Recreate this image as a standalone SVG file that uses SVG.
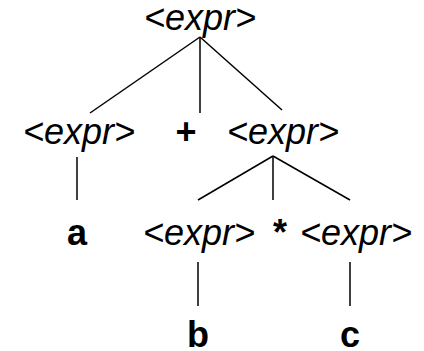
<svg xmlns="http://www.w3.org/2000/svg" width="424" height="351" viewBox="0 0 424 351">
<style>
.nt{font-family:"Liberation Sans",Arial,sans-serif;font-style:italic;font-size:36px;fill:#000;text-anchor:middle}
.t{font-family:"Liberation Sans",Arial,sans-serif;font-weight:bold;font-size:36px;fill:#000;text-anchor:middle}
.e line{stroke:#000;stroke-width:1.5}
</style>
<rect width="424" height="351" fill="#fff"/>
<g class="e" id="edges">
<line x1="200" y1="37" x2="90" y2="113"/>
<line x1="200" y1="37" x2="200" y2="113"/>
<line x1="200" y1="37" x2="282" y2="110"/>
<line x1="77" y1="157" x2="77" y2="200"/>
<line x1="273" y1="156" x2="198" y2="200"/>
<line x1="273" y1="156" x2="273" y2="200"/>
<line x1="273" y1="156" x2="350" y2="200"/>
<line x1="198" y1="262" x2="198" y2="306"/>
<line x1="350" y1="262" x2="350" y2="306"/>
</g>
<g id="n0"><text class="nt" x="200" y="30">&lt;expr&gt;</text></g>
<g id="n1"><text class="nt" x="79" y="144">&lt;expr&gt;</text></g>
<g id="n2"><text class="t" x="186" y="144">+</text></g>
<g id="n3"><text class="nt" x="283" y="144">&lt;expr&gt;</text></g>
<g id="n4"><text class="t" x="77" y="245">a</text></g>
<g id="n5"><text class="nt" x="199" y="245">&lt;expr&gt;</text></g>
<g id="n6"><text class="t" x="280" y="245">*</text></g>
<g id="n7"><text class="nt" x="356" y="245">&lt;expr&gt;</text></g>
<g id="n8"><text class="t" x="198" y="347">b</text></g>
<g id="n9"><text class="t" x="350" y="347">c</text></g>
</svg>
